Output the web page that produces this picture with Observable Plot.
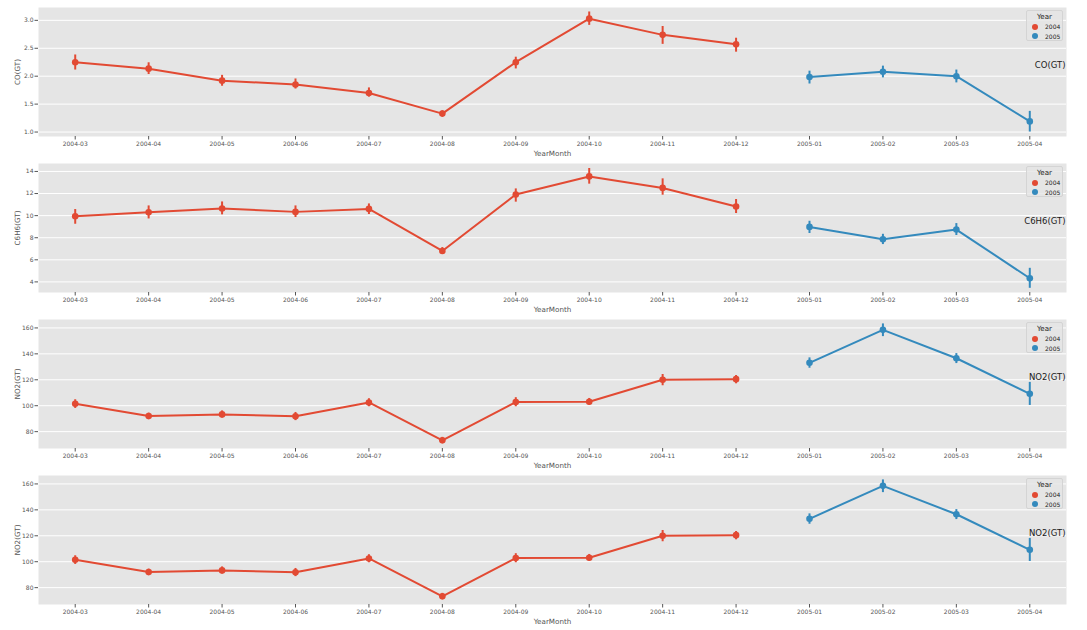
<!DOCTYPE html>
<html><head><meta charset="utf-8">
<script src="https://cdn.jsdelivr.net/npm/d3@7"></script>
<script src="https://cdn.jsdelivr.net/npm/@observablehq/plot@0.6"></script>
<style>
body{margin:0;background:#fff;font-family:"DejaVu Sans",sans-serif;}
#wrap{position:relative;width:1087px;height:630px;overflow:hidden;}
.panel{position:relative;height:156px;}
.panel svg{overflow:visible;display:block;}
.legend{position:absolute;left:1026px;top:10px;width:37px;height:31px;border:1px solid #d4d4d4;background:rgba(229,229,229,0.8);border-radius:2px;box-sizing:border-box;font-family:"DejaVu Sans",sans-serif;color:#222;}
.legend .lt{position:absolute;top:1px;left:0;width:100%;text-align:center;font-size:7.1px;line-height:9px;}
.legend .li{position:absolute;left:0;width:100%;font-size:6px;line-height:9px;}
.legend .li span.d{position:absolute;left:4.5px;top:1.5px;width:6px;height:6px;border-radius:50%;}
.legend .li span.t{position:absolute;left:18px;top:0;}
</style></head>
<body><div id="wrap"></div>
<script>
const months = ["2004-03","2004-04","2004-05","2004-06","2004-07","2004-08","2004-09","2004-10","2004-11","2004-12","2005-01","2005-02","2005-03","2005-04"];
const years = [2004,2004,2004,2004,2004,2004,2004,2004,2004,2004,2005,2005,2005,2005];
const yearLevels = [2004, 2005];
const yearColors = ["#E24A33", "#348ABD"];

const coMean = [2.25,2.135,1.92,1.85,1.70,1.33,2.25,3.03,2.74,2.57,1.985,2.08,2.00,1.19];
const coLow  = [2.11,2.03,1.82,1.77,1.625,1.27,2.13,2.91,2.57,2.43,1.86,1.97,1.88,1.00];
const coHigh = [2.38,2.24,2.015,1.95,1.79,1.38,2.34,3.15,2.89,2.68,2.09,2.18,2.11,1.37];

const c6Mean = [9.95,10.31,10.64,10.34,10.61,6.80,11.91,13.55,12.51,10.83,8.98,7.86,8.74,4.33];
const c6Low  = [9.22,9.70,10.07,9.83,10.10,6.48,11.22,12.85,11.85,10.19,8.38,7.38,8.20,3.42];
const c6High = [10.55,10.88,11.24,10.88,11.06,7.11,12.42,14.27,13.33,11.46,9.49,8.31,9.28,5.23];

const no2Mean = [101.5,92.0,93.3,91.8,102.5,73.3,102.8,103.1,120.0,120.5,133.1,158.5,136.6,109.2];
const no2Low  = [97.9,89.5,90.5,88.5,99.2,71.0,99.2,100.5,115.4,116.9,128.9,153.3,132.5,100.2];
const no2High = [104.6,94.3,96.0,94.8,105.4,75.6,106.2,105.6,124.1,123.3,136.9,163.1,140.2,118.0];

const coTicks = [1.0,1.5,2.0,2.5,3.0];
const c6Ticks = [4,6,8,10,12,14];
const no2Ticks = [80,100,120,140,160];

const panels = [
  {label:"CO(GT)", mean:coMean, low:coLow, high:coHigh, domain:[0.92,3.23], ticks:coTicks, fmt:d3.format(".1f")},
  {label:"C6H6(GT)", mean:c6Mean, low:c6Low, high:c6High, domain:[3.04,14.72], ticks:c6Ticks, fmt:d3.format("d")},
  {label:"NO2(GT)", mean:no2Mean, low:no2Low, high:no2High, domain:[67,166.5], ticks:no2Ticks, fmt:d3.format("d")},
  {label:"NO2(GT)", mean:no2Mean, low:no2Low, high:no2High, domain:[67,166.5], ticks:no2Ticks, fmt:d3.format("d")}
];

const wrap = document.getElementById("wrap");
for (const p of panels) {
  const rows = months.map((m, i) => ({month:m, year:years[i], v:p.mean[i], lo:p.low[i], hi:p.high[i]}));
  const chart = Plot.plot({
    width:1087, height:156,
    marginTop:7, marginBottom:20, marginLeft:38, marginRight:21,
    style:{background:"transparent", fontFamily:"DejaVu Sans, sans-serif", color:"#555555", overflow:"visible"},
    x:{type:"point", domain:months, padding:0.5, round:false, label:null},
    y:{domain:p.domain, label:null},
    color:{domain:yearLevels, range:yearColors},
    marks:[
      Plot.frame({fill:"#E5E5E5", stroke:null}),
      Plot.gridY(p.ticks, {stroke:"#ffffff", strokeOpacity:1, strokeWidth:1}),
      Plot.axisY(p.ticks, {tickSize:3.5, tickPadding:1.5, tickFormat:p.fmt, fontSize:6, label:null}),
      Plot.axisY([], {tickSize:0, label:p.label, labelArrow:"none", labelAnchor:"center", labelOffset:24, fontSize:7.2}),
      Plot.axisX({tickSize:3.5, tickPadding:2, fontSize:6, label:null}),
      Plot.axisX([], {tickSize:0, label:"YearMonth", labelArrow:"none", labelAnchor:"center", labelOffset:19, fontSize:7.2}),
      Plot.line(rows, {x:"month", y:"v", z:"year", stroke:"year", strokeWidth:2}),
      Plot.ruleX(rows, {x:"month", y1:"lo", y2:"hi", stroke:"year", strokeWidth:2}),
      Plot.dot(rows, {x:"month", y:"v", fill:"year", r:3.3}),
      Plot.text([p.label], {text:d => d, frameAnchor:"right", textAnchor:"end", dx:-1, dy:-6.5, fontSize:8.5, fill:"#1a1a1a"})
    ]
  });
  const div = document.createElement("div");
  div.className = "panel";
  div.appendChild(chart);
  const lg = document.createElement("div");
  lg.className = "legend";
  let html = '<div class="lt">Year</div>';
  yearLevels.forEach((y, i) => {
    html += `<div class="li" style="top:${11 + i * 9.5}px"><span class="d" style="background:${yearColors[i]}"></span><span class="t">${y}</span></div>`;
  });
  lg.innerHTML = html;
  div.appendChild(lg);
  wrap.appendChild(div);
}
</script>
</body></html>
